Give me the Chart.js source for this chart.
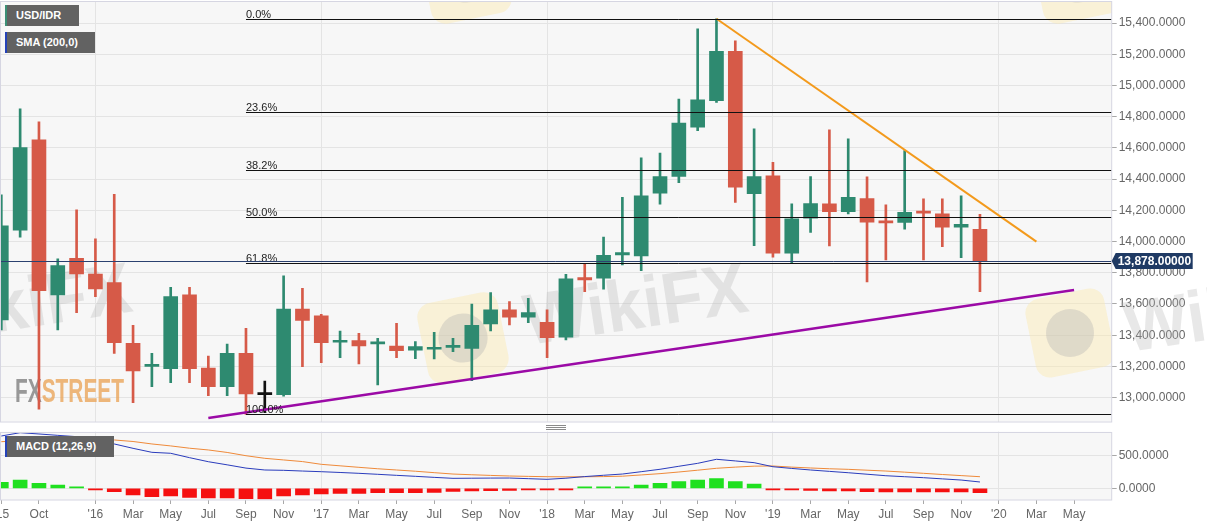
<!DOCTYPE html>
<html>
<head>
<meta charset="utf-8">
<title>USD/IDR monthly</title>
<script src="https://cdn.jsdelivr.net/npm/chart.js@4.4.1/dist/chart.umd.min.js"></script>
<style>
    html, body { margin: 0; padding: 0; background: #fff; }
    #wrap { position: relative; width: 1207px; height: 526px; overflow: hidden; font-family: Arial, 'Liberation Sans', sans-serif; }
    #priceChart { position: absolute; left: 0; top: 0; }
    #macdChart { position: absolute; left: 0; top: 423px; }
    .tag { position: absolute; left: 5px; height: 21px; line-height: 21px; box-sizing: border-box; padding-left: 9px;
           background: #626262; color: #fff; font-size: 11px; font-weight: bold; border-left: 2px solid #2542b8; z-index: 2; }
</style>
</head>
<body>
<div id="wrap">
    <canvas id="priceChart" width="1207" height="423"></canvas>
    <canvas id="macdChart" width="1207" height="103"></canvas>
    <div class="tag" style="top:5px;width:74px;border-left-color:#3b8f76;">USD/IDR</div>
    <div class="tag" style="top:32px;width:90px;">SMA (200,0)</div>
    <div class="tag" style="top:436px;width:109px;">MACD (12,26,9)</div>
</div>
<script>
// monthly candles, index 0 = Aug 2015 ... index 52 = Dec 2019
const candleOpen = [13498, 14073, 14652, 13658, 13893, 13791, 13737, 13348, 13200, 13186, 13658, 13190, 13071, 13284,
    13019, 13019, 13568, 13524, 13355, 13365, 13345, 13331, 13305, 13310, 13322, 13316, 13472, 13562, 13515, 13483,
    13387, 13769, 13765, 13915, 13908, 14310, 14417, 14733, 14902, 15218, 14306, 14421, 13925, 14150, 14241, 14192,
    14276, 14130, 14122, 14190, 14177, 14092, 14079];
const candleHigh = [14299, 14850, 14767, 13889, 14203, 14017, 14303, 13464, 13284, 13707, 13707, 13267, 13344, 13444,
    13107, 13780, 13701, 13534, 13427, 13412, 13380, 13476, 13359, 13419, 13380, 13600, 13673, 13615, 13637, 13562,
    13790, 13857, 14028, 14284, 14536, 14566, 14912, 15363, 15427, 15286, 14722, 14508, 14241, 14417, 14716, 14658,
    14415, 14235, 14583, 14273, 14273, 14293, 14175];
const candleLow = [13434, 14028, 12926, 13434, 13545, 13647, 13284, 12968, 13071, 13096, 13096, 13013, 13013, 12893,
    12904, 13010, 13199, 13224, 13256, 13216, 13081, 13256, 13250, 13248, 13295, 13109, 13427, 13466, 13481, 13256,
    13370, 13679, 13695, 13850, 13814, 14239, 14378, 14711, 14891, 14250, 13974, 13900, 13861, 14058, 13972, 14177,
    13741, 13883, 14079, 13883, 13968, 13897, 13679];
const candleClose = [14100, 14602, 13686, 13846, 13793, 13697, 13353, 13171, 13206, 13647, 13186, 13071, 13284, 13024,
    13019, 13568, 13494, 13352, 13365, 13331, 13350, 13301, 13327, 13318, 13330, 13464, 13562, 13515, 13545, 13385,
    13761, 13754, 13912, 13930, 14293, 14417, 14759, 14908, 15218, 14348, 14417, 13925, 14145, 14244, 14192, 14284,
    14124, 14120, 14188, 14182, 14092, 14111, 13878];

const macdLine = [802, 853, 833, 812, 792, 745, 680, 613, 552, 537, 470, 408, 360, 310, 281, 276, 265, 255, 243, 230,
    215, 199, 184, 168, 153, 155, 157, 158, 148, 138, 155, 180, 200, 219, 255, 292, 338, 383, 445, 420, 393, 331, 305,
    281, 260, 239, 216, 193, 178, 163, 145, 127, 97];
const signalLine = [715, 728, 745, 755, 758, 752, 741, 718, 680, 650, 615, 588, 550, 500, 460, 435, 410, 368, 345, 322,
    300, 281, 262, 240, 219, 208, 198, 189, 183, 178, 176, 177, 180, 186, 205, 225, 250, 278, 307, 325, 340, 342, 325,
    312, 300, 291, 278, 265, 248, 230, 212, 195, 178];
const macdHist = [92, 127, 77, 51, 20, -8, -52, -103, -128, -118, -138, -149, -149, -159, -164, -118, -103, -87, -77,
    -77, -67, -67, -67, -61, -46, -41, -36, -31, -26, -26, -10, 2, 12, 15, 51, 77, 102, 127, 148, 102, 66, -5, -21,
    -31, -41, -41, -51, -56, -56, -56, -56, -56, -67];

const priceTicks = [13000, 13200, 13400, 13600, 13800, 14000, 14200, 14400, 14600, 14800, 15000, 15200, 15400];
const macdTicks = [0, 500];
const monthTickIdx = [0, 2, 5, 7, 9, 11, 13, 15, 17, 19, 21, 23, 25, 27, 29, 31, 33, 35, 37, 39, 41, 43, 45, 47, 49, 51, 53, 55, 57];
const monthTickText = ["'15", 'Oct', "'16", 'Mar', 'May', 'Jul', 'Sep', 'Nov', "'17", 'Mar', 'May', 'Jul', 'Sep', 'Nov',
    "'18", 'Mar', 'May', 'Jul', 'Sep', 'Nov', "'19", 'Mar', 'May', 'Jul', 'Sep', 'Nov', "'20", 'Mar', 'May'];
const yearIdx = [5, 17, 29, 41, 53];

const fibLevels = [0, 23.6, 38.2, 50, 61.8, 100];
const fibRange = [15425, 12893];      // 0% and 100%
const fibStartIdx = 13;
const lastPrice = 13878;
const resistanceIdx = [38, 55];
const resistanceVal = [15427, 14000];
const supportIdx = [11, 57];
const supportVal = [12870, 13690];

const X_RANGE = [-0.07, 59.0];
const PRICE_RANGE = [12846, 15541];
const MACD_RANGE = [-179, 868];

const COLORS = { up: '#2e8a70', down: '#d65a48', flat: '#111', grid: '#e4e4e4', frame: '#d6d6e2', plot: '#f7f7f7' };
const FONT = "Arial, 'Liberation Sans', sans-serif";

function fmt(v, d) {
    return v.toLocaleString('en-US', { minimumFractionDigits: d, maximumFractionDigits: d });
}

function candleColor(o, c) {
    if (c > o) return COLORS.up;
    if (c < o) return COLORS.down;
    return COLORS.flat;
}

function setTicks(values) {
    return (s) => { s.ticks = values.map(v => ({ value: v })); };
}

function noPad(size, key) {
    return (s) => { s[key] = size; s.paddingLeft = 0; s.paddingRight = 0; s.paddingTop = 0; s.paddingBottom = 0; };
}

// ---------- drawing helpers ----------
function fillPlot(chart) {
    const { ctx, chartArea: a } = chart;
    ctx.save();
    ctx.fillStyle = COLORS.plot;
    ctx.fillRect(a.left, a.top, a.right - a.left, a.bottom - a.top);
    ctx.restore();
}

function drawFrame(chart) {
    const { ctx, chartArea: a } = chart;
    ctx.save();
    ctx.strokeStyle = COLORS.frame;
    ctx.lineWidth = 1;
    ctx.strokeRect(a.left + 0.5, Math.round(a.top) + 0.5, a.right - a.left - 0.5, Math.round(a.bottom - a.top) - 0.5);
    ctx.restore();
}

function wikiLogo(ctx, cx, cy, size) {
    ctx.save();
    ctx.translate(cx, cy);
    ctx.rotate(-0.2);
    ctx.fillStyle = 'rgba(250, 233, 175, 0.45)';
    ctx.beginPath();
    ctx.roundRect(-size / 2, -size / 2, size, size, size * 0.18);
    ctx.fill();
    ctx.fillStyle = 'rgba(175, 175, 175, 0.35)';
    ctx.beginPath();
    ctx.arc(0, 0, size * 0.3, 0, Math.PI * 2);
    ctx.fill();
    ctx.restore();
}

function wikiText(ctx, x, y, width) {
    ctx.save();
    ctx.translate(x, y);
    ctx.rotate(-0.15);
    ctx.font = 'bold 72px ' + FONT;
    const w = ctx.measureText('WikiFX').width;
    ctx.scale(width / w, 1);
    ctx.fillStyle = 'rgba(180, 180, 180, 0.3)';
    ctx.fillText('WikiFX', 0, 0);
    ctx.restore();
}

function drawWatermarks(chart) {
    const { ctx, chartArea: a } = chart;
    ctx.save();
    ctx.beginPath();
    ctx.rect(a.left, a.top, a.right - a.left, a.bottom - a.top);
    ctx.clip();
    wikiLogo(ctx, 466, -22, 82);
    wikiLogo(ctx, 1078, -22, 82);
    wikiLogo(ctx, 463, 338, 82);
    wikiLogo(ctx, 1070, 333, 80);
    wikiText(ctx, 528, 345, 225);
    wikiText(ctx, -88, 345, 225);

    // FXSTREET logo
    ctx.font = 'bold 34px ' + FONT;
    const fxW = ctx.measureText('FX').width;
    const stW = ctx.measureText('STREET').width;
    const k = 109 / (fxW + stW);
    ctx.translate(15, 402);
    ctx.scale(k, 1);
    ctx.fillStyle = 'rgba(135, 135, 135, 0.85)';
    ctx.fillText('FX', 0, 0);
    ctx.fillStyle = 'rgba(234, 165, 90, 0.8)';
    ctx.fillText('STREET', fxW, 0);
    ctx.restore();

    ctx.save();
    wikiText(ctx, 1128, 352, 225);
    ctx.restore();
}

function drawFibLevels(chart) {
    const { ctx, chartArea: a, scales: { x, y } } = chart;
    const x0 = x.getPixelForValue(fibStartIdx);
    ctx.save();
    ctx.strokeStyle = '#111';
    ctx.lineWidth = 1;
    ctx.fillStyle = '#222';
    ctx.font = '11px ' + FONT;
    ctx.textBaseline = 'alphabetic';
    fibLevels.forEach(l => {
        const v = fibRange[0] - (fibRange[0] - fibRange[1]) * l / 100;
        const py = Math.round(y.getPixelForValue(v)) + 0.5;
        ctx.beginPath();
        ctx.moveTo(x0, py);
        ctx.lineTo(a.right, py);
        ctx.stroke();
        ctx.fillText(l.toFixed(1) + '%', x0, py - 2);
    });
    ctx.restore();
}

function drawLastPrice(chart) {
    const { ctx, chartArea: a, scales: { y } } = chart;
    const py = Math.round(y.getPixelForValue(lastPrice)) + 0.5;
    ctx.save();
    ctx.strokeStyle = '#2b4170';
    ctx.lineWidth = 1;
    ctx.beginPath();
    ctx.moveTo(a.left, py);
    ctx.lineTo(a.right, py);
    ctx.stroke();
    ctx.restore();
}

function drawPriceBadge(chart) {
    const { ctx, chartArea: a, scales: { y } } = chart;
    const py = Math.round(y.getPixelForValue(lastPrice));
    const left = a.right + 4, w = 77, h = 16;
    ctx.save();
    ctx.fillStyle = '#1f3a64';
    ctx.beginPath();
    ctx.moveTo(a.right, py);
    ctx.lineTo(left, py - h / 2);
    ctx.lineTo(left + w, py - h / 2);
    ctx.lineTo(left + w, py + h / 2);
    ctx.lineTo(left, py + h / 2);
    ctx.closePath();
    ctx.fill();
    ctx.fillStyle = '#fff';
    ctx.font = 'bold 12px ' + FONT;
    ctx.textBaseline = 'middle';
    ctx.fillText(fmt(lastPrice, 5), left + 2, py + 1);
    ctx.restore();
}

function drawHandle(chart) {
    const { ctx, chartArea: a } = chart;
    const cx = Math.round((a.left + a.right) / 2);
    ctx.save();
    ctx.strokeStyle = '#8a8a8a';
    ctx.lineWidth = 1;
    [2.5, 4.5, 6.5].forEach(yy => {
        ctx.beginPath();
        ctx.moveTo(cx - 10, yy);
        ctx.lineTo(cx + 10, yy);
        ctx.stroke();
    });
    ctx.restore();
}

const pricePanePlugin = {
    id: 'pricePane',
    beforeDraw: fillPlot,
    beforeDatasetsDraw: drawWatermarks,
    afterDatasetsDraw(chart) { drawFibLevels(chart); drawLastPrice(chart); },
    afterDraw(chart) { drawFrame(chart); drawPriceBadge(chart); }
};

const macdPanePlugin = {
    id: 'macdPane',
    beforeDraw: fillPlot,
    afterDraw(chart) { drawFrame(chart); drawHandle(chart); }
};

// ---------- charts ----------
function xScale(showLabels) {
    return {
        type: 'linear', min: X_RANGE[0], max: X_RANGE[1], offset: false,
        border: { display: false },
        grid: {
            offset: false,
            drawTicks: showLabels,
            tickLength: 4,
            tickColor: '#a8a8a8',
            color: (c) => yearIdx.includes(c.tick && c.tick.value) ? COLORS.grid : 'rgba(0,0,0,0)'
        },
        ticks: {
            display: showLabels, autoSkip: false, maxRotation: 0, padding: 3,
            color: '#666', font: { size: 12, family: FONT },
            callback: (v) => monthTickText[monthTickIdx.indexOf(v)]
        },
        afterBuildTicks: setTicks(showLabels ? monthTickIdx : yearIdx),
        afterFit: noPad(showLabels ? 26 : 0, 'height')
    };
}

function yScale(range, ticks, digits) {
    return {
        position: 'right', min: range[0], max: range[1],
        border: { display: false },
        grid: { color: COLORS.grid, tickColor: '#a8a8a8', tickLength: 5 },
        ticks: { padding: 2, color: '#666', font: { size: 12, family: FONT }, callback: (v) => fmt(v, digits) },
        afterBuildTicks: setTicks(ticks),
        afterFit: noPad(95.3, 'width')
    };
}

function initPriceChart() {
    const colors = candleOpen.map((o, i) => candleColor(o, candleClose[i]));
    new Chart(document.getElementById('priceChart'), {
        type: 'bar',
        data: {
            datasets: [
                { type: 'line', data: resistanceIdx.map((x, i) => ({ x, y: resistanceVal[i] })),
                  borderColor: '#f39a1c', borderWidth: 2, pointRadius: 0, order: 0 },
                { type: 'line', data: supportIdx.map((x, i) => ({ x, y: supportVal[i] })),
                  borderColor: '#9b0aa6', borderWidth: 2.5, pointRadius: 0, order: 0 },
                { data: candleOpen.map((o, i) => ({ x: i, y: [o, candleClose[i]] })),
                  backgroundColor: colors, barThickness: 14, minBarLength: 2, grouped: false, order: 1 },
                { data: candleLow.map((l, i) => ({ x: i, y: [l, candleHigh[i]] })),
                  backgroundColor: colors, barThickness: 2, grouped: false, order: 2 }
            ]
        },
        options: {
            responsive: false, animation: false, events: [],
            layout: { padding: { top: 1, bottom: 1.3, left: 0, right: 0 } },
            plugins: { legend: { display: false }, tooltip: { enabled: false } },
            scales: { x: xScale(false), y: yScale(PRICE_RANGE, priceTicks, 4) }
        },
        plugins: [pricePanePlugin]
    });
}

function initMacdChart() {
    new Chart(document.getElementById('macdChart'), {
        type: 'bar',
        data: {
            datasets: [
                { type: 'line', data: macdLine.map((v, i) => ({ x: i, y: v })),
                  borderColor: '#2a3cbc', borderWidth: 1, pointRadius: 0, order: 0 },
                { type: 'line', data: signalLine.map((v, i) => ({ x: i, y: v })),
                  borderColor: '#ef8a3a', borderWidth: 1, pointRadius: 0, order: 0 },
                { data: macdHist.map((v, i) => ({ x: i, y: v })),
                  backgroundColor: macdHist.map(v => v >= 0 ? '#1fe01f' : '#f51010'),
                  barThickness: 14, minBarLength: 1.5, order: 1 }
            ]
        },
        options: {
            responsive: false, animation: false, events: [],
            layout: { padding: { top: 8.7, bottom: 0, left: 0, right: 0 } },
            plugins: { legend: { display: false }, tooltip: { enabled: false } },
            scales: { x: xScale(true), y: yScale(MACD_RANGE, macdTicks, 4) }
        },
        plugins: [macdPanePlugin]
    });
}

initPriceChart();
initMacdChart();
</script>
</body>
</html>
